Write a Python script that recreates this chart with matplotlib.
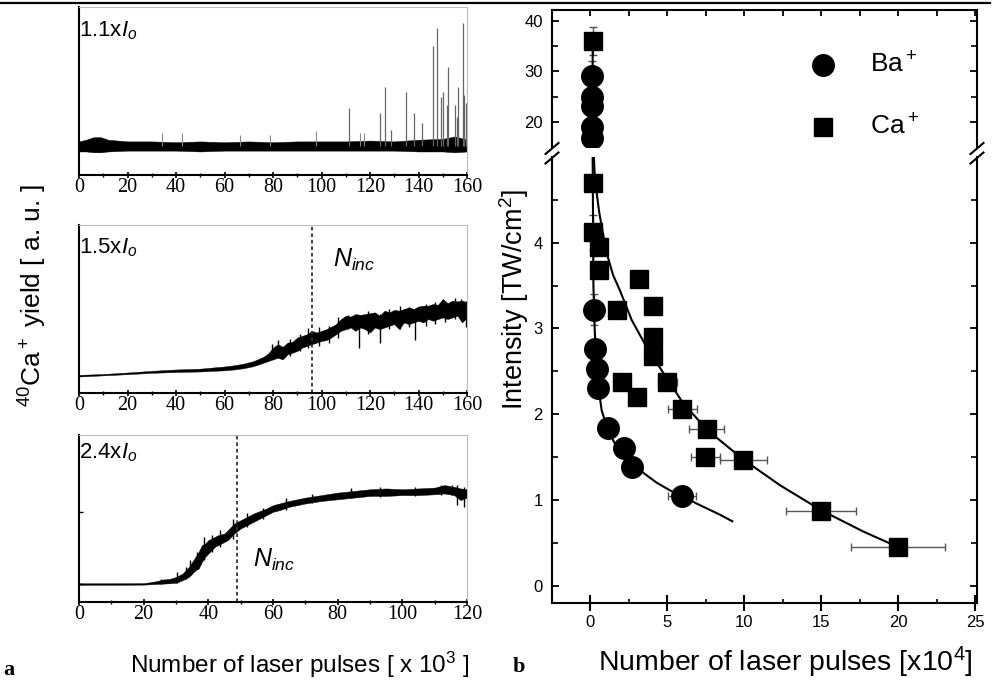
import matplotlib
matplotlib.use("Agg")
import matplotlib.pyplot as plt
from matplotlib.ticker import MultipleLocator, FixedLocator
from matplotlib.lines import Line2D

plt.rcParams['font.family'] = ['Liberation Sans', 'DejaVu Sans']
plt.rcParams['mathtext.fontset'] = 'custom'
plt.rcParams['mathtext.rm'] = 'Liberation Sans'
plt.rcParams['mathtext.it'] = 'Liberation Sans:italic'
plt.rcParams['mathtext.bf'] = 'Liberation Sans:bold'

# ---------------- data: panel a (traces, arbitrary units 0..1) ----------------
top_x  = [0, 3, 6, 9, 12, 20, 30, 40, 50, 60, 70, 80, 90, 100, 110, 120, 130, 140, 150, 155, 160]
top_lo = [0.14, 0.14, 0.135, 0.135, 0.14, 0.145, 0.145, 0.145, 0.14, 0.145, 0.145, 0.145,
          0.145, 0.145, 0.145, 0.145, 0.145, 0.14, 0.14, 0.135, 0.14]
top_hi = [0.20, 0.21, 0.225, 0.225, 0.21, 0.20, 0.20, 0.195, 0.20, 0.195, 0.20, 0.195,
          0.20, 0.20, 0.20, 0.205, 0.20, 0.21, 0.215, 0.23, 0.21]
spike_x   = [111.5, 124.1, 126.3, 128.6, 134.8, 138.1, 141.3, 145.8, 147.8, 149.2, 150.0,
             151.9, 152.1, 155.1, 156.0, 156.4, 158.2, 158.8, 159.6]
spike_top = [0.397, 0.367, 0.526, 0.268, 0.496, 0.367, 0.308, 0.768, 0.873, 0.466, 0.496,
             0.417, 0.645, 0.417, 0.347, 0.526, 0.903, 0.476, 0.427]
tip_x   = [34.1, 42.3, 66.3, 78.9, 97.9, 115.8, 117.4]
tip_top = [0.248, 0.252, 0.24, 0.238, 0.262, 0.248, 0.248]

mid_x  = [0, 10, 20, 30, 40, 50, 60, 64, 68, 72, 76, 78, 80, 82, 84, 86, 88, 90, 92, 94, 96,
          98, 100, 102, 104, 106, 108, 110, 112, 114, 116, 118, 120, 122, 124, 126, 128, 130,
          132, 134, 136, 138, 140, 142, 144, 146, 148, 150, 152, 154, 156, 158, 160]
mid_lo = [0.098, 0.105, 0.112, 0.12, 0.125, 0.128, 0.135, 0.14, 0.148, 0.16, 0.18, 0.19, 0.2,
          0.21, 0.2, 0.23, 0.24, 0.25, 0.27, 0.28, 0.29, 0.3, 0.31, 0.315, 0.33, 0.35, 0.37,
          0.38, 0.39, 0.37, 0.39, 0.38, 0.36, 0.39, 0.38, 0.39, 0.40, 0.41, 0.38, 0.42, 0.41,
          0.42, 0.43, 0.42, 0.44, 0.43, 0.44, 0.45, 0.44, 0.45, 0.46, 0.42, 0.45]
mid_hi = [0.108, 0.113, 0.122, 0.132, 0.14, 0.145, 0.158, 0.165, 0.175, 0.19, 0.215, 0.235,
          0.27, 0.29, 0.275, 0.30, 0.305, 0.33, 0.34, 0.35, 0.37, 0.36, 0.37, 0.38, 0.395,
          0.41, 0.44, 0.46, 0.455, 0.47, 0.465, 0.47, 0.475, 0.48, 0.46, 0.49, 0.48, 0.495,
          0.49, 0.50, 0.51, 0.50, 0.515, 0.52, 0.52, 0.53, 0.525, 0.56, 0.535, 0.55, 0.545,
          0.55, 0.54]
mid_spk_x  = [79.5, 82.2, 87.0, 91.0, 94.6, 99.0, 103.0, 106.7, 111.1, 115.3, 119.0, 124.2,
              128.0, 132.5, 136.0, 138.7, 143.0, 147.0, 151.0, 155.2, 157.5, 159.4]
mid_spk_lo = [0.21, 0.22, 0.22, 0.25, 0.27, 0.28, 0.30, 0.33, 0.38, 0.266, 0.35, 0.295,
              0.38, 0.38, 0.39, 0.315, 0.40, 0.41, 0.42, 0.44, 0.43, 0.395]
mid_spk_hi = [0.29, 0.315, 0.32, 0.35, 0.385, 0.39, 0.40, 0.45, 0.464, 0.45, 0.49, 0.47,
              0.50, 0.52, 0.51, 0.50, 0.53, 0.54, 0.55, 0.564, 0.56, 0.55]
mid_ninc = 96

bot_x  = [0, 10, 20, 22, 24, 26, 28, 30, 32, 34, 36, 37, 38, 39, 40, 41, 42, 43, 44, 45, 46,
          47, 48, 50, 52, 54, 56, 58, 60, 62, 65, 70, 75, 80, 85, 90, 95, 100, 105, 110, 113,
          116, 118, 120]
bot_lo = [0.103, 0.103, 0.104, 0.106, 0.108, 0.11, 0.112, 0.115, 0.13, 0.15, 0.19, 0.2, 0.24,
          0.27, 0.29, 0.31, 0.33, 0.34, 0.35, 0.36, 0.37, 0.39, 0.41, 0.44, 0.46, 0.48, 0.50,
          0.52, 0.54, 0.55, 0.57, 0.59, 0.605, 0.615, 0.625, 0.635, 0.635, 0.64, 0.64, 0.645,
          0.65, 0.64, 0.61, 0.625]
bot_hi = [0.112, 0.112, 0.113, 0.118, 0.125, 0.135, 0.138, 0.15, 0.17, 0.21, 0.27, 0.30, 0.34,
          0.35, 0.37, 0.38, 0.39, 0.40, 0.405, 0.41, 0.43, 0.45, 0.47, 0.49, 0.51, 0.53, 0.545,
          0.56, 0.58, 0.59, 0.605, 0.625, 0.64, 0.655, 0.665, 0.675, 0.68, 0.675, 0.68, 0.685,
          0.70, 0.69, 0.68, 0.675]
bot_spk_x  = [25.5, 30.2, 33.0, 34.3, 36.5, 38.6, 41.0, 43.6, 47.7, 52.0, 57.0, 64.0, 72.0,
              84.0, 93.0, 104.0, 112.0, 115.4, 117.0, 119.0]
bot_spk_lo = [0.11, 0.115, 0.14, 0.16, 0.2, 0.25, 0.3, 0.33, 0.38, 0.45, 0.50, 0.55, 0.59,
              0.62, 0.63, 0.635, 0.64, 0.64, 0.58, 0.57]
bot_spk_hi = [0.14, 0.181, 0.21, 0.251, 0.30, 0.391, 0.40, 0.43, 0.50, 0.53, 0.565, 0.62,
              0.645, 0.68, 0.69, 0.69, 0.70, 0.70, 0.70, 0.69]
bot_ninc = 49

# ---------------- data: panel b ----------------
ba_x    = [0.15, 0.15, 0.15, 0.15, 0.15, 0.26, 0.32, 0.43, 0.54, 1.15, 2.2, 2.75, 5.95]
ba_y    = [29.0, 25.0, 23.1, 19.1, 16.85, 3.22, 2.76, 2.53, 2.30, 1.84, 1.61, 1.38, 1.05]
ba_xerr = [0, 0, 0, 0, 0, 0, 0, 0, 0, 0, 0, 0, 0.9]
ba_yerr = [3.0, 0, 0, 0, 0, 0.18, 0, 0, 0, 0, 0, 0, 0]

ca_x    = [0.17, 0.2, 0.2, 0.55, 0.55, 1.77, 3.2, 4.07, 4.07, 4.07, 2.06, 3.03, 5.02, 6.0,
           7.58, 7.49, 9.96, 15.0, 20.0]
ca_y    = [36.0, 4.70, 4.12, 3.95, 3.68, 3.22, 3.58, 3.26, 2.90, 2.68, 2.37, 2.20, 2.37, 2.06,
           1.83, 1.50, 1.47, 0.87, 0.45]
ca_xerr = [0, 0, 0, 0, 0, 0, 0, 0, 0, 0, 0, 0, 0.6, 0.95, 1.15, 0.92, 1.52, 2.27, 3.05]
ca_yerr = [2.8, 0, 0.2, 0, 0, 0, 0, 0, 0, 0, 0, 0, 0, 0, 0, 0, 0, 0, 0]

ba_fit_x = [0.14, 0.15, 0.17, 0.22, 0.3, 0.4, 0.55, 0.76, 1.15, 1.6, 2.2, 2.8, 3.5, 4.33,
            5.2, 6.0, 7.0, 7.58, 8.4, 9.24]
ba_fit_y = [29, 16, 5.0, 3.5, 3.0, 2.62, 2.3, 2.04, 1.82, 1.66, 1.52, 1.42, 1.31, 1.2,
            1.11, 1.04, 0.95, 0.90, 0.83, 0.75]
ca_fit_x = [0.17, 0.18, 0.2, 0.25, 0.32, 0.6, 0.9, 1.19, 1.5, 1.95, 2.7, 3.68, 4.98, 6.0,
            7.58, 9.96, 12.34, 15.0, 17.75, 20.0]
ca_fit_y = [36, 20, 14, 5.0, 4.73, 4.35, 4.05, 3.81, 3.62, 3.44, 3.10, 2.78, 2.42, 2.14,
            1.82, 1.47, 1.17, 0.88, 0.63, 0.45]

panel_labels = ["1.1x$\\mathit{I}_{\\mathit{o}}$", "1.5x$\\mathit{I}_{\\mathit{o}}$",
                "2.4x$\\mathit{I}_{\\mathit{o}}$"]

# ---------------- figure ----------------
W, H = 996, 680
fig = plt.figure(figsize=(W / 100, H / 100), dpi=100)
fig.patch.set_facecolor('white')


def box(l, t, r, b):
    return [l / W, 1 - b / H, (r - l) / W, (b - t) / H]


def fx(px):
    return px / W


def fy(py):
    return 1 - py / H


# top rule
fig.add_artist(Line2D([0, fx(990)], [fy(3), fy(3)], color='k', lw=1.6,
                      transform=fig.transFigure))

axA = fig.add_axes(box(79, 7, 467, 175))
axB = fig.add_axes(box(79, 225, 467, 393))
axC = fig.add_axes(box(79, 435, 467, 602))

for ax, xmax in [(axA, 160), (axB, 160), (axC, 120)]:
    ax.set_xlim(0, xmax)
    ax.set_ylim(0, 1)
    for s in ['left', 'bottom']:
        ax.spines[s].set_linewidth(1.5)
        ax.spines[s].set_color('k')
    for s in ['top', 'right']:
        ax.spines[s].set_linewidth(0.8)
        ax.spines[s].set_color('#bbbbbb')
    ax.xaxis.set_major_locator(MultipleLocator(20))
    ax.xaxis.set_minor_locator(MultipleLocator(10))
    ax.tick_params(axis='x', which='major', direction='inout', length=5, width=1.2,
                   pad=0, labelsize=14.5)
    ax.tick_params(axis='x', which='minor', direction='inout', length=2.5, width=1.0)
    ax.tick_params(axis='y', left=False, labelleft=False)
    for lab in ax.get_xticklabels():
        lab.set_fontfamily('Liberation Serif')

axC.yaxis.set_major_locator(FixedLocator([0.108, 0.54]))
axC.tick_params(axis='y', left=True, direction='in', length=3, width=1.0, labelleft=False)

# top trace
axA.fill_between(top_x, top_lo, top_hi, color='k', lw=0.3)
axA.vlines(spike_x, 0.17, spike_top, color='#666666', lw=0.9)
axA.vlines(tip_x, 0.17, tip_top, color='#888888', lw=0.8)
# middle trace
axB.fill_between(mid_x, mid_lo, mid_hi, color='k', lw=0.3)
axB.vlines(mid_spk_x, mid_spk_lo, mid_spk_hi, color='k', lw=1.0)
axB.axvline(mid_ninc, color='#333333', lw=1.3, ls=(0, (2, 1.6)))
# bottom trace
axC.fill_between(bot_x, bot_lo, bot_hi, color='k', lw=0.3)
axC.vlines(bot_spk_x, bot_spk_lo, bot_spk_hi, color='k', lw=1.0)
axC.axvline(bot_ninc, color='#333333', lw=1.3, ls=(0, (2, 1.6)))

axA.text((88 - 79) / 388, (175 - 36) / 168, panel_labels[0], fontsize=16, va='baseline')
axB.text((88 - 79) / 388, (393 - 253) / 168, panel_labels[1], fontsize=16, va='baseline')
axC.text((86 - 79) / 388, (602 - 458) / 167, panel_labels[2], fontsize=16, va='baseline')
axB.text(104.7, 0.752, "$N_{inc}$", fontsize=18, va='baseline')
axC.text(53.8, 0.211, "$N_{inc}$", fontsize=18, va='baseline')

fig.text(fx(33), fy(296), "$^{40}$Ca$^+$ yield [ a. u. ]", rotation=90, ha='center',
         va='center', fontsize=19)
fig.text(fx(299.5), fy(673), "Number of laser pulses [ x 10$^3$ ]", ha='center',
         va='baseline', fontsize=17.5)
fig.text(fx(3), fy(675), "a", fontfamily='Liberation Serif', fontweight='bold',
         fontsize=16, va='baseline')

# ---------------- panel b ----------------
axL = fig.add_axes(box(552, 157, 977, 602.7))
axU = fig.add_axes(box(552, 10, 977, 147))
xl = (-2.47, 25.13)
axL.set_xlim(*xl)
axU.set_xlim(*xl)
axL.set_ylim(-0.2, 5.0)
axU.set_ylim(15.1, 42.1)

for ax in (axL, axU):
    for s in ax.spines.values():
        s.set_linewidth(1.5)
axL.spines['top'].set_visible(False)
axU.spines['bottom'].set_visible(False)

for ax in (axL, axU):
    ax.errorbar(ba_x, ba_y, xerr=ba_xerr, yerr=ba_yerr, fmt='none', ecolor='#555555',
                elinewidth=1.0, capsize=3, capthick=1.0, zorder=2)
    ax.errorbar(ca_x, ca_y, xerr=ca_xerr, yerr=ca_yerr, fmt='none', ecolor='#555555',
                elinewidth=1.0, capsize=3, capthick=1.0, zorder=2)
    ax.plot(ba_fit_x, ba_fit_y, color='k', lw=1.5, zorder=3)
    ax.plot(ca_fit_x, ca_fit_y, color='k', lw=1.5, zorder=3)
    ax.plot(ba_x, ba_y, 'o', color='k', ms=15.5, zorder=4)
    ax.plot(ca_x, ca_y, 's', color='k', ms=13, zorder=4)

axL.xaxis.set_major_locator(MultipleLocator(5))
axL.xaxis.set_minor_locator(MultipleLocator(2.5))
axL.yaxis.set_major_locator(FixedLocator([0, 1, 2, 3, 4]))
axL.yaxis.set_minor_locator(FixedLocator([0.5, 1.5, 2.5, 3.5, 4.5]))
axL.tick_params(axis='x', which='major', direction='inout', length=11, width=1.5,
                labelsize=12, pad=3, top=False)
axL.tick_params(axis='x', which='minor', direction='in', length=3, width=1.2, top=False)
axL.tick_params(axis='y', which='major', direction='in', length=5, width=1.3,
                labelsize=12, pad=6.5, right=True)
axL.tick_params(axis='y', which='minor', direction='in', length=4, width=1.2, right=True)

axU.xaxis.set_major_locator(MultipleLocator(5))
axU.xaxis.set_minor_locator(MultipleLocator(2.5))
axU.yaxis.set_major_locator(FixedLocator([20, 30, 40]))
axU.yaxis.set_minor_locator(FixedLocator([25, 35]))
axU.tick_params(axis='x', which='both', bottom=False, labelbottom=False, top=True,
                direction='in', length=4, width=1.3)
axU.tick_params(axis='y', which='major', direction='in', length=5, width=1.3,
                labelsize=12, pad=6.5, right=True)
axU.tick_params(axis='y', which='minor', direction='in', length=4, width=1.2, right=True)

# axis break marks
for xs in (552, 977):
    for yc in (148.5, 158.0):
        fig.add_artist(Line2D([fx(xs - 6.5), fx(xs + 6.5)], [fy(yc + 5.5), fy(yc - 5.5)],
                              color='k', lw=1.5, transform=fig.transFigure))

# legend
axU.plot([(823 - 552) / 425], [(147 - 65) / 137], 'o', color='k', ms=15.5,
         transform=axU.transAxes, clip_on=False)
axU.plot([(823 - 552) / 425], [(147 - 127) / 137], 's', color='k', ms=13,
         transform=axU.transAxes, clip_on=False)
axU.text((870 - 552) / 425, (147 - 65) / 137, "Ba$^+$", fontsize=19, va='center',
         transform=axU.transAxes)
axU.text((870 - 552) / 425, (147 - 127) / 137, "Ca$^+$", fontsize=19, va='center',
         transform=axU.transAxes)

fig.text(fx(514), fy(299), "Intensity [TW/cm$^2$]", rotation=90, ha='center',
         va='center', fontsize=19.5)
fig.text(fx(785), fy(671.5), "Number of laser pulses [x10$^4$]", ha='center',
         va='baseline', fontsize=20.5)
fig.text(fx(513), fy(671.5), "b", fontfamily='Liberation Serif', fontweight='bold',
         fontsize=16, va='baseline')

fig.savefig("out.png", dpi=100, facecolor='white')
